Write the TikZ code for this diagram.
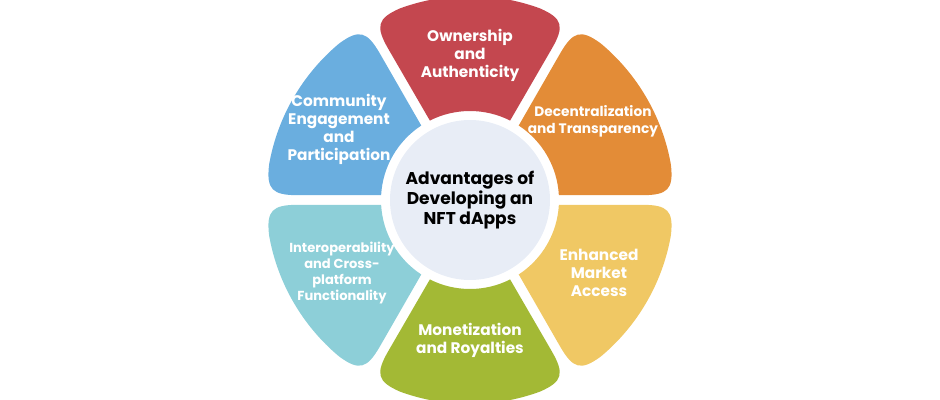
\documentclass[tikz,border=0pt]{standalone}
\usepackage{fontspec}
\setmainfont{Poppins}
\usepackage{tikz}

\definecolor{ownred}{HTML}{C4474F}
\definecolor{decorange}{HTML}{E38C37}
\definecolor{mktyellow}{HTML}{F0C864}
\definecolor{mongreen}{HTML}{A3B935}
\definecolor{interteal}{HTML}{8DCFD8}
\definecolor{comblue}{HTML}{6AAEDF}
\definecolor{hubfill}{HTML}{E8EDF6}

\tikzset{
    petaltext/.style={text=white, align=center, font=\bfseries\fontsize{11.5}{13.5}\selectfont},
    smalltext/.style={font=\bfseries\fontsize{10.3}{12.8}\selectfont},
    tinytext/.style={font=\bfseries\fontsize{9.8}{11.8}\selectfont},
    hub/.style={circle, fill=hubfill, minimum size=120pt, inner sep=0pt, align=center,
        font=\bfseries\fontsize{12.8}{15}\selectfont},
}

% one petal of the flower, centred on angle #1
\newcommand{\petal}[2]{%
    \pgfmathsetmacro\pa{#1-30}
    \pgfmathsetmacro\pb{#1+30}
    \fill[#2] (\pa+3.2:89) -- (\pa+1.6:172) .. controls (\pa+1.4:198) and (\pa+3:204) .. (\pa+10:204)
        arc[start angle=\pa+10, end angle=\pb-10, radius=204]
        .. controls (\pb-3:204) and (\pb-1.4:198) .. (\pb-1.6:172)
        -- (\pb-3.2:89) arc[start angle=\pb-3.2, end angle=\pa+3.2, radius=89] -- cycle;
}

\begin{document}
\begin{tikzpicture}[x=0.75pt, y=0.75pt]
    \useasboundingbox (-470,-200) rectangle (470,200);

    \petal{90}{ownred}
    \petal{30}{decorange}
    \petal{-30}{mktyellow}
    \petal{-90}{mongreen}
    \petal{-150}{interteal}
    \petal{150}{comblue}

    \node[hub] (center) at (0,0) {Advantages of\\Developing an\\NFT dApps};

    \node[petaltext] (own) at (0,145) {Ownership\\and\\Authenticity};
    \node[petaltext, smalltext] (dec) at (123,79) {Decentralization\\and Transparency};
    \node[petaltext] (mkt) at (129,-73) {Enhanced\\Market\\Access};
    \node[petaltext] (mon) at (0,-140) {Monetization\\and Royalties};
    \node[petaltext, tinytext] (inter) at (-128,-73) {Interoperability\\and Cross-\\platform\\Functionality};
    \node[petaltext] (com) at (-131,71) {Community\\Engagement\\and\\Participation};
\end{tikzpicture}
\end{document}
